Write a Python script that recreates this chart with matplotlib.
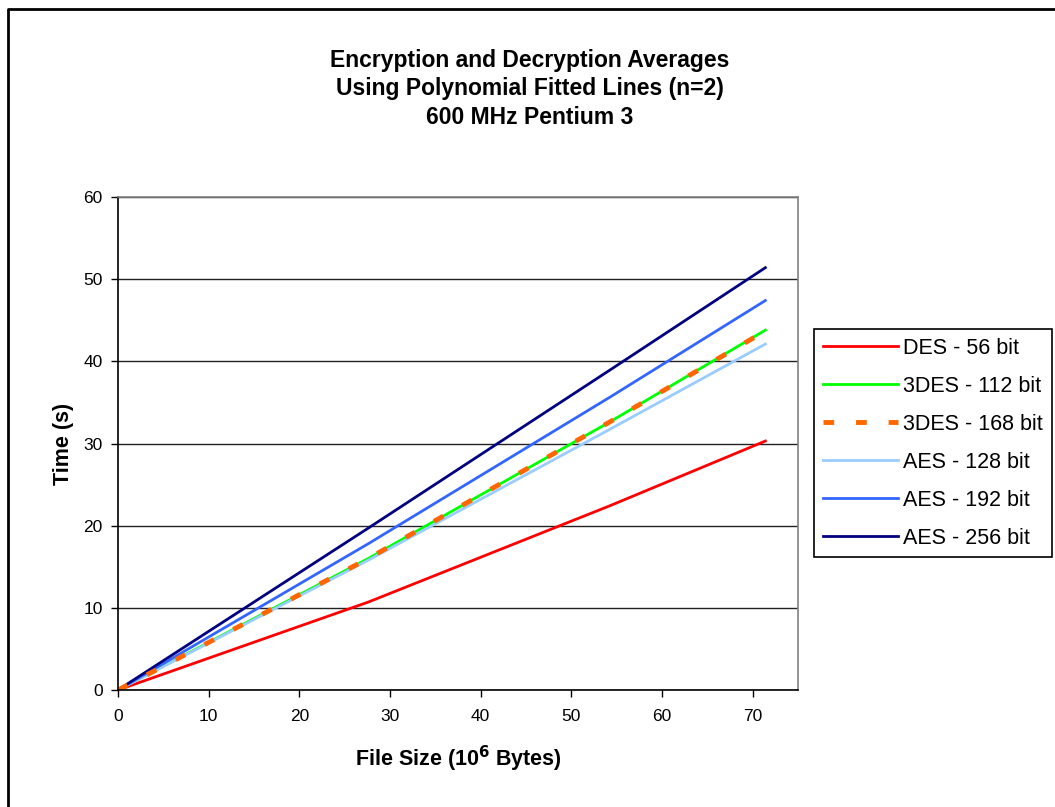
import matplotlib
matplotlib.use('Agg')
import matplotlib.pyplot as plt
from matplotlib.lines import Line2D

plt.rcParams['font.family'] = ['Liberation Sans', 'DejaVu Sans']

file_size = [0, 27.6, 54.2, 71.4]

des_56 = [0, 10.7, 22.4, 30.3]
tdes_112 = [0, 16.0, 32.6, 43.8]
tdes_168 = [0, 16.0, 32.6, 43.7]
aes_128 = [0, 15.8, 31.7, 42.1]
aes_192 = [0, 17.8, 35.6, 47.4]
aes_256 = [0, 19.7, 38.9, 51.4]

x_ticks = [0, 10, 20, 30, 40, 50, 60, 70]
y_ticks = [0, 10, 20, 30, 40, 50, 60]

W, H = 1055, 807
fig = plt.figure(figsize=(W / 100, H / 100), dpi=100)
ax = fig.add_axes([118 / W, 1 - 690 / H, (798 - 118) / W, (690 - 197) / H])

lw = 2.0
ax.plot(file_size, des_56, color='#FF0000', lw=lw, label='DES - 56 bit')
ax.plot(file_size, tdes_112, color='#00FF00', lw=lw, label='3DES - 112 bit')
ax.plot(file_size, aes_128, color='#99CCFF', lw=lw, label='AES - 128 bit')
ax.plot(file_size, aes_192, color='#3366FF', lw=lw, label='AES - 192 bit')
ax.plot(file_size, aes_256, color='#000080', lw=lw, label='AES - 256 bit')
ax.plot(file_size, tdes_168, color='#FF6600', lw=3.5, dashes=(2.2, 4.5),
        label='3DES - 168 bit')

ax.set_xlim(0, 75)
ax.set_ylim(0, 60)
ax.set_xticks(x_ticks)
ax.set_yticks(y_ticks)
ax.tick_params(direction='out', length=5, width=1, labelsize=12.5,
               colors='black')
ax.tick_params(axis='x', pad=9)
ax.tick_params(axis='y', pad=6)
ax.yaxis.grid(True, color='#222222', lw=1)
ax.set_axisbelow(True)
for side in ('top', 'right'):
  ax.spines[side].set_color('#808080')
for side in ('left', 'bottom'):
  ax.spines[side].set_color('black')
for s in ax.spines.values():
  s.set_linewidth(1.2)

ax.set_xlabel('File Size (10$^{\\mathbf{6}}$ Bytes)', fontsize=15.5,
              fontweight='bold', labelpad=14)
ax.set_ylabel('Time (s)', fontsize=15.5, fontweight='bold', labelpad=7)

fig.text(530 / W, 1 - 89 / H,
         'Encryption and Decryption Averages\n'
         'Using Polynomial Fitted Lines (n=2)\n'
         '600 MHz Pentium 3',
         ha='center', va='center', fontsize=16.5, fontweight='bold',
         linespacing=1.32)

# Legend in the original series order.
handles, labels = ax.get_legend_handles_labels()
order = ['DES - 56 bit', '3DES - 112 bit', '3DES - 168 bit',
         'AES - 128 bit', 'AES - 192 bit', 'AES - 256 bit']
lookup = dict(zip(labels, handles))
leg = ax.legend([lookup[k] for k in order], order,
                loc='upper left', bbox_to_anchor=(814 / W, 1 - 329 / H),
                bbox_transform=fig.transFigure, borderaxespad=0,
                fontsize=15.5, handlelength=3.5, handletextpad=0.25,
                labelspacing=0.79, borderpad=0.4, fancybox=False,
                framealpha=1, edgecolor='black')
leg.get_frame().set_linewidth(1.2)

# Outer chart border (only left and top are inside the picture).
fig.add_artist(Line2D([7.5 / W, 7.5 / W, 1.0], [0.0, 1 - 9 / H, 1 - 9 / H],
                      transform=fig.transFigure, color='black', lw=2))

fig.savefig('out.png', dpi=100)
